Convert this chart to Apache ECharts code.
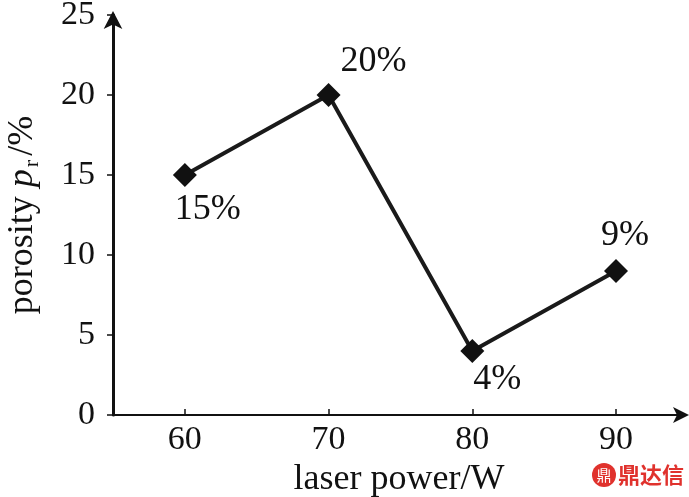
<!DOCTYPE html>
<html><head><meta charset="utf-8">
<script src="https://cdn.jsdelivr.net/npm/echarts@6/dist/echarts.min.js"></script>
<style>html,body{margin:0;padding:0;background:#fff}#c{width:689px;height:497px}</style>
</head><body><div id="c"></div>
<script>
const powers = [60, 70, 80, 90];
const porosity = [15, 20, 4, 9];
const pointLabels = ['15%', '20%', '4%', '9%'];
const xTicks = [60, 70, 80, 90];
const yTicks = [0, 5, 10, 15, 20, 25];

const labelPos = [
  {position: 'bottom', offset: [23, 0]},
  {position: 'top', offset: [45, 2]},
  {position: 'bottom', offset: [25, -6]},
  {position: 'top', offset: [9, 0]}
];

const chart = echarts.init(document.getElementById('c'));
const font = 'Liberation Serif';
chart.setOption({
  backgroundColor: '#fff',
  animation: false,
  grid: {left: 113, right: 4, top: 15, bottom: 82, containLabel: false, outerBoundsMode: 'none'},
  xAxis: {
    type: 'value', min: 55, max: 94.8,
    name: 'laser power/W', nameLocation: 'middle', nameGap: 41,
    nameTextStyle: {fontFamily: font, fontSize: 36, color: '#111'},
    axisLine: {show: true, onZero: false, lineStyle: {color: '#111', width: 2}, symbol: ['none', 'arrow'], symbolSize: [12, 16], symbolOffset: [0, 4]},
    axisTick: {show: true, inside: true, length: 6, customValues: xTicks, lineStyle: {color: '#111', width: 1.5}},
    axisLabel: {customValues: xTicks, fontFamily: font, fontSize: 34, color: '#111', margin: 8},
    splitLine: {show: false}
  },
  yAxis: {
    type: 'value', min: 0, max: 25, interval: 5,
    name: '{n|porosity }{i|p}{s|r}{n|/%}', nameLocation: 'middle', nameGap: 70, nameRotate: 90,
    nameTextStyle: {rich: {
      n: {fontFamily: font, fontSize: 36, color: '#111'},
      i: {fontFamily: font, fontSize: 36, fontStyle: 'italic', color: '#111'},
      s: {fontFamily: font, fontSize: 22, color: '#111', verticalAlign: 'bottom', padding: [18, 4, 0, 2]}
    }},
    axisLine: {show: true, onZero: false, lineStyle: {color: '#111', width: 3}, symbol: ['none', 'arrow'], symbolSize: [14, 18], symbolOffset: [0, 4]},
    axisTick: {show: true, inside: false, length: 6, lineStyle: {color: '#111', width: 1.5}},
    axisLabel: {fontFamily: font, fontSize: 34, color: '#111', margin: 18},
    splitLine: {show: false}
  },
  series: [{
    type: 'line',
    data: powers.map((p, i) => ({
      value: [p, porosity[i]],
      label: Object.assign({show: true, formatter: pointLabels[i], fontFamily: font, fontSize: 36, color: '#111'}, labelPos[i])
    })),
    symbol: 'diamond', symbolSize: 24,
    itemStyle: {color: '#111'},
    lineStyle: {color: '#1a1a1a', width: 4},
  }],
  graphic: [
    {type: 'circle', shape: {cx: 604, cy: 475, r: 12}, style: {fill: '#e0322d'}},
    {type: 'text', style: {x: 604, y: 475, text: '鼎', fill: '#fff', fontSize: 15, fontFamily: 'Noto Sans CJK SC', align: 'center', verticalAlign: 'middle'}},
    {type: 'text', style: {x: 618, y: 475, text: '鼎达信', fill: '#e0322d', fontSize: 22, fontWeight: 'bold', fontFamily: 'Noto Sans CJK SC', verticalAlign: 'middle'}}
  ]
});
</script></body></html>
